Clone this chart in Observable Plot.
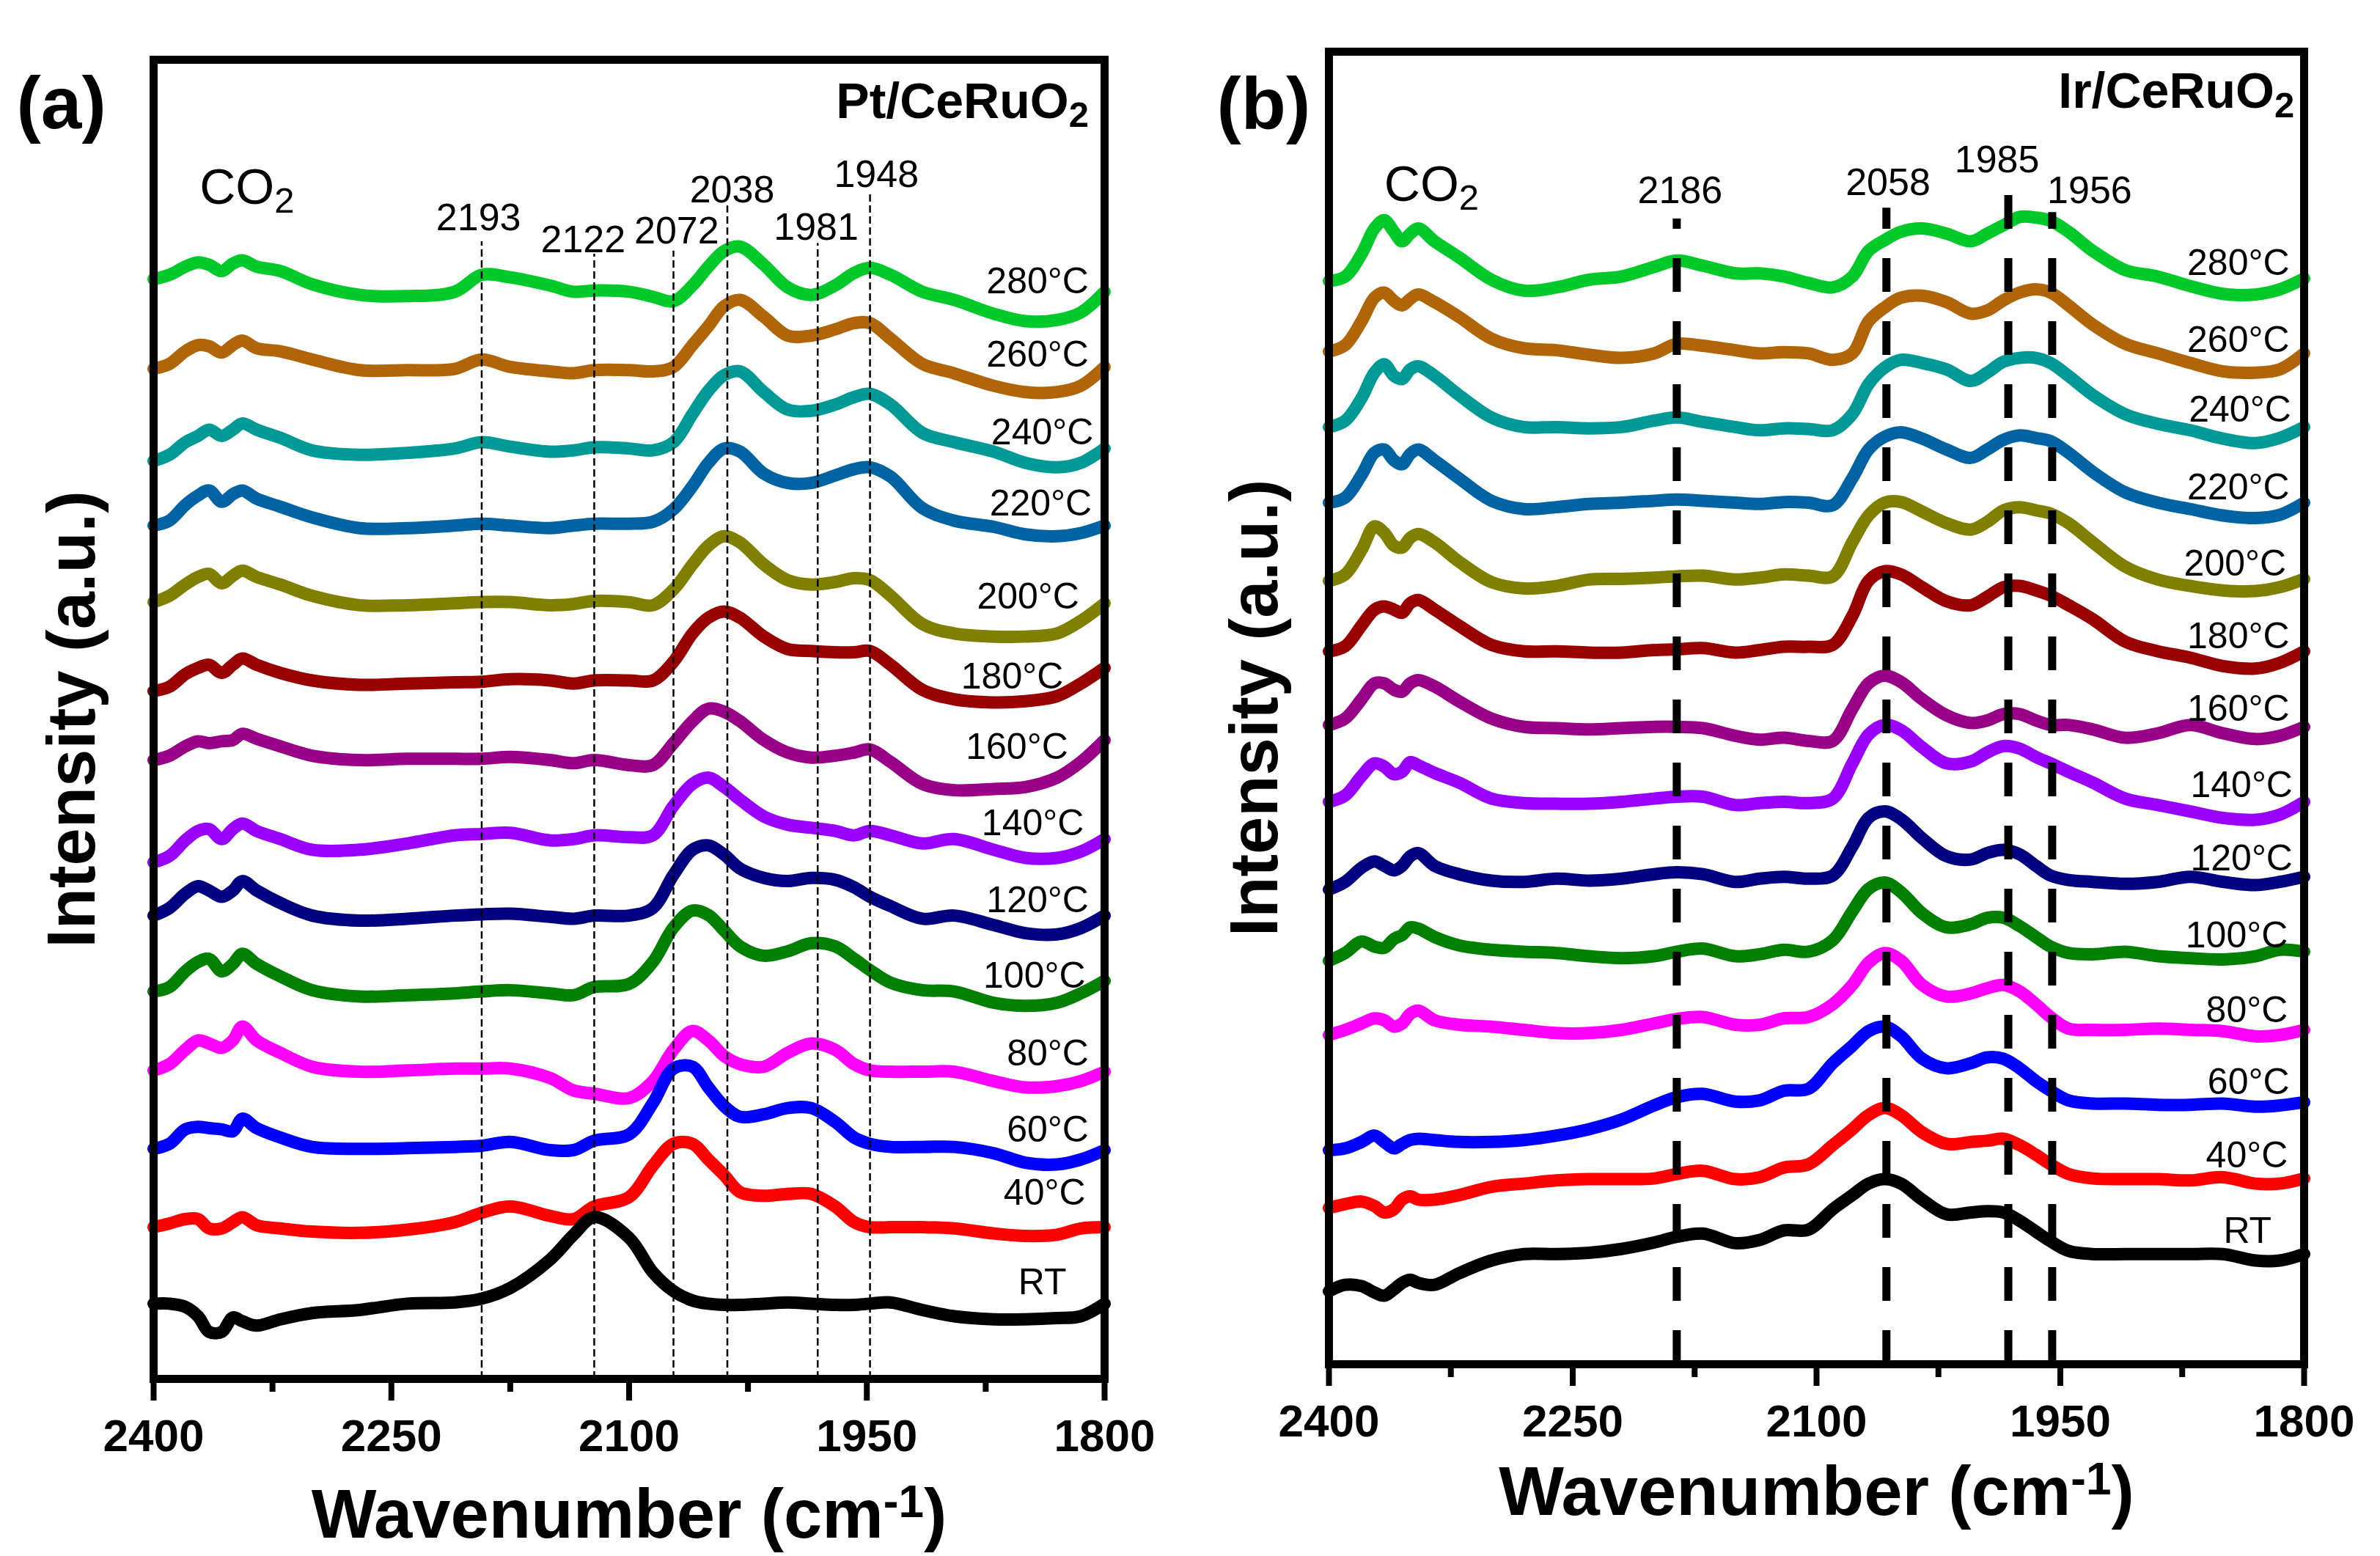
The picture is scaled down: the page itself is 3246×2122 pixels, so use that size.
<!DOCTYPE html>
<html>
<head>
<meta charset="utf-8">
<script src="https://cdn.jsdelivr.net/npm/d3@7"></script>
<script src="https://cdn.jsdelivr.net/npm/@observablehq/plot@0.6"></script>
<style>
html, body { margin: 0; padding: 0; background: #fff; }
#fig { position: relative; width: 3246px; height: 2122px; background: #fff; overflow: hidden; }
#fig svg { position: absolute; top: 0; }
</style>
</head>
<body>
<div id="fig"></div>
<script>
// ---------- shared categories ----------
const tempNames = ["280°C","260°C","240°C","220°C","200°C","180°C","160°C","140°C","120°C","100°C","80°C","60°C","40°C","RT"];
const majorTicks = [2400, 2250, 2100, 1950, 1800];
const minorTicks = [2325, 2175, 2025, 1875];

// ---------- panel (a) Pt/CeRuO2 : wavenumber grid and intensities ----------
const waveA = [2400,2390,2380,2372,2365,2357,2350,2344,2335,2320,2300,2270,2240,2210,2193,2175,2150,2135,2122,2100,2085,2072,2060,2050,2040,2030,2015,2000,1985,1970,1958,1948,1935,1915,1895,1870,1850,1830,1815,1800];
const pt280 = [1754,1761,1774,1781,1777,1767,1779,1784,1774,1767,1746,1729,1727,1734,1761,1757,1744,1734,1736,1734,1726,1719,1744,1774,1799,1806,1777,1741,1729,1744,1764,1772,1761,1734,1721,1699,1687,1689,1701,1734];
const pt260 = [1611,1619,1639,1649,1647,1637,1649,1656,1644,1639,1626,1609,1609,1611,1626,1614,1607,1604,1609,1609,1607,1614,1649,1679,1711,1721,1694,1664,1664,1674,1684,1684,1659,1619,1604,1584,1574,1574,1584,1614];
const pt240 = [1464,1474,1494,1504,1514,1504,1514,1524,1514,1501,1481,1474,1477,1484,1494,1487,1479,1481,1486,1484,1481,1494,1539,1576,1601,1607,1574,1546,1544,1554,1566,1571,1554,1509,1494,1479,1461,1454,1461,1484];
const pt220 = [1361,1369,1394,1409,1417,1399,1411,1417,1404,1391,1374,1357,1357,1361,1364,1361,1357,1361,1364,1364,1367,1387,1424,1461,1484,1479,1444,1429,1429,1441,1451,1454,1439,1389,1369,1359,1347,1344,1349,1361];
const pt200 = [1239,1249,1267,1279,1284,1269,1281,1289,1279,1267,1249,1234,1234,1237,1239,1239,1234,1236,1241,1239,1234,1259,1299,1329,1344,1334,1299,1274,1267,1271,1277,1274,1249,1204,1189,1184,1184,1189,1209,1237];
const pt180 = [1097,1104,1124,1134,1139,1126,1139,1149,1139,1126,1114,1107,1109,1111,1112,1116,1114,1109,1114,1114,1114,1144,1189,1214,1224,1214,1184,1164,1161,1159,1159,1161,1139,1099,1084,1079,1081,1089,1109,1134];
const pt160 = [987,994,1009,1017,1014,1017,1019,1029,1021,1009,994,987,989,989,989,992,987,982,987,979,979,1014,1049,1069,1064,1049,1019,999,991,994,999,1004,984,949,939,941,944,959,984,1019];
const pt140 = [824,834,859,874,877,861,877,886,874,861,844,844,854,867,869,871,859,861,867,864,867,914,949,959,944,924,897,884,879,874,867,874,867,854,861,844,831,831,841,861];
const pt120 = [739,751,774,786,779,769,779,794,779,759,739,731,734,739,741,742,737,734,739,739,751,804,844,851,836,814,799,794,799,796,784,769,754,734,739,724,711,709,719,739];
const pt100 = [618,625,650,665,670,650,662,678,662,642,620,610,612,615,618,620,615,612,625,630,665,720,747,740,715,690,675,682,695,690,670,652,632,620,618,600,595,600,615,635];
const pt80  = [492,502,525,540,535,528,540,562,540,520,498,490,492,495,495,495,480,460,455,448,475,525,555,540,515,502,498,520,535,525,502,492,490,490,490,475,465,467,475,490];
const pt60  = [367,375,398,402,400,398,395,415,400,385,370,367,368,370,372,378,365,365,380,390,440,495,498,465,435,418,422,432,432,410,385,375,370,370,370,360,345,342,350,365];
const pt40  = [242,248,255,255,240,240,250,258,245,240,235,233,238,250,265,275,260,255,275,290,340,375,375,350,325,298,292,295,295,275,250,242,242,242,240,232,228,230,240,242];
const ptRT  = [120,120,115,100,75,75,98,92,85,95,105,110,120,122,128,145,190,230,258,225,170,140,125,120,118,118,120,122,120,118,118,120,122,110,100,95,95,97,100,120];

const peakTextA = ["2193","2122","2072","2038","1981","1948"];
const peakLineA = [2193, 2122, 2072, 2038, 1981, 1948];
const peakLineTopA = [1814, 1794, 1799, 1871, 1811, 1894];
const peakLabelXA = [2195, 2129, 2070, 2035, 1982, 1944];
const peakLabelYA = [1832, 1797, 1811, 1877, 1817, 1901];
const tempLabelXA = [1810,1810,1807,1808,1816,1826,1823,1813,1810,1812,1810,1810,1812,1824];
const tempLabelYA = [1731,1614,1491,1377,1229,1101,989,867,744,624,500,378,278,135];

// ---------- panel (b) Ir/CeRuO2 ----------
const waveB = [2400,2390,2380,2372,2366,2360,2355,2350,2345,2335,2320,2300,2280,2260,2240,2220,2200,2186,2170,2150,2135,2120,2105,2090,2078,2068,2058,2048,2035,2020,2005,1995,1985,1975,1965,1956,1945,1930,1910,1890,1870,1850,1830,1815,1800];
const ir280 = [1691,1698,1733,1773,1786,1768,1753,1765,1773,1753,1728,1693,1676,1681,1693,1698,1713,1723,1715,1703,1703,1698,1688,1681,1698,1738,1755,1768,1773,1765,1753,1765,1778,1791,1790,1785,1768,1738,1708,1698,1683,1671,1670,1678,1695];
const ir260 = [1581,1591,1628,1665,1673,1660,1653,1663,1670,1658,1635,1601,1586,1583,1576,1571,1578,1593,1590,1583,1578,1580,1578,1568,1578,1628,1650,1665,1668,1658,1640,1645,1661,1673,1678,1673,1653,1623,1593,1578,1563,1550,1548,1553,1578];
const ir240 = [1463,1473,1508,1548,1561,1543,1538,1553,1558,1543,1513,1478,1463,1463,1461,1463,1473,1478,1471,1463,1458,1461,1460,1458,1483,1530,1556,1568,1563,1553,1535,1548,1565,1571,1571,1563,1543,1513,1483,1468,1458,1445,1438,1446,1463];
const ir220 = [1345,1353,1388,1423,1428,1411,1405,1421,1428,1411,1383,1348,1335,1338,1343,1345,1348,1350,1348,1345,1343,1346,1345,1341,1383,1428,1448,1455,1445,1428,1415,1428,1443,1450,1446,1441,1423,1393,1361,1345,1335,1325,1321,1326,1345];
const ir200 = [1223,1233,1271,1308,1298,1278,1275,1290,1296,1283,1253,1221,1211,1215,1225,1226,1228,1230,1231,1225,1228,1233,1231,1230,1283,1325,1345,1346,1331,1313,1303,1315,1333,1338,1333,1328,1313,1283,1245,1225,1215,1208,1207,1213,1226];
const ir180 = [1113,1121,1153,1178,1183,1178,1173,1188,1193,1178,1153,1123,1113,1113,1111,1111,1115,1116,1118,1111,1115,1120,1120,1123,1168,1223,1238,1233,1213,1191,1185,1198,1213,1215,1208,1200,1185,1163,1128,1113,1103,1090,1086,1095,1113];
const ir160 = [998,1008,1038,1063,1063,1053,1050,1063,1068,1058,1035,1008,995,993,991,993,995,995,993,981,975,978,973,973,1023,1063,1075,1065,1038,1013,1001,1005,1015,1015,1005,998,998,991,978,985,998,985,976,981,995];
const ir140 = [878,888,918,938,933,921,925,940,935,923,908,883,876,875,875,878,883,886,886,873,876,878,876,883,938,983,998,990,963,938,941,955,965,961,948,938,925,908,883,873,863,853,850,858,878];
const ir120 = [741,753,775,785,778,771,778,793,798,778,765,755,753,758,755,758,765,768,765,753,758,761,758,763,808,853,863,851,821,793,788,798,803,796,778,763,756,753,750,753,761,753,748,753,761];
const ir100 = [630,642,660,652,650,664,670,682,680,667,654,647,644,642,637,634,637,644,649,637,640,647,644,662,707,742,752,737,704,682,687,697,697,684,667,652,642,640,644,637,634,632,637,647,644];
const ir80  = [514,522,532,540,537,527,532,547,552,537,530,527,522,517,517,522,532,539,542,530,530,540,542,562,592,627,642,630,592,574,579,587,592,582,562,542,524,522,522,524,522,520,512,514,522];
const ir60  = [334,337,347,357,347,337,344,350,352,350,347,347,350,357,367,382,404,417,422,410,412,427,430,470,497,520,527,512,477,462,470,479,477,462,442,427,412,407,407,405,405,407,402,404,409];
const ir40  = [244,250,254,247,237,242,257,262,257,257,264,277,282,287,289,289,290,297,302,289,292,307,312,342,367,389,400,389,362,344,347,349,352,342,327,312,297,290,289,289,287,292,282,282,290];
const irRT  = [114,124,122,112,107,117,127,132,127,124,142,162,172,172,174,180,190,199,204,189,194,209,210,242,264,282,289,282,257,234,237,239,237,224,207,192,177,172,172,172,172,172,162,162,172];

const peakTextB = ["2186","2058","1985","1956"];
const peakLineB = [2186, 2057, 1982, 1955];
const peakLineTopB = [1788, 1805, 1843, 1798];
const peakLabelXB = [2184, 2056, 1989, 1932];
const peakLabelYB = [1813, 1825, 1861, 1813];
const tempLabelXB = [1809,1809,1808,1809,1811,1809,1809,1807,1807,1810,1810,1809,1810,1820];
const tempLabelYB = [1701,1580,1471,1350,1231,1118,1005,885,771,651,534,422,307,190];

// ---------- styles ----------
const lineColors = ["#00c92a","#b06608","#009a96","#0063a4","#808000","#990000","#990088","#9900ff","#000080","#008000","#ff00ff","#0000ff","#ff0000","#000000"];
const FONT = "'Liberation Sans', Arial, Helvetica, sans-serif";

function fixText(svg) {
  d3.select(svg).selectAll("text").each(function () {
    const t = this.textContent;
    const sel = d3.select(this);
    if (t === "CO2" || t === "Pt/CeRuO2" || t === "Ir/CeRuO2") {
      this.textContent = "";
      sel.append("tspan").text(t.slice(0, -1));
      sel.append("tspan").attr("dy", "0.25em").attr("font-size", "0.72em").text("2");
    } else if (t === "Wavenumber (cm-1)") {
      this.textContent = "";
      sel.append("tspan").text("Wavenumber (cm");
      sel.append("tspan").attr("dy", "-0.45em").attr("font-size", "0.66em").text("-1");
      sel.append("tspan").attr("dy", "0.3em").text(")");
    }
  });
}

function makePanel(p) {
  const marks = [];
  p.series.forEach((s, i) => {
    marks.push(Plot.line(p.wave, {x: d => d, y: (d, j) => s[j], stroke: lineColors[i], strokeWidth: 17, curve: "catmull-rom", strokeLinejoin: "round"}));
  });
  marks.push(Plot.ruleX(p.peakLine, {x: d => d, y1: 0, y2: (d, i) => p.peakTop[i], stroke: "black", strokeWidth: p.ruleWidth, strokeDasharray: p.ruleDash}));
  marks.push(Plot.text(tempNames, {x: (d, i) => p.tempX[i], y: (d, i) => p.tempY[i], text: d => d, textAnchor: "end", lineAnchor: "bottom", fontSize: 50, fill: "black"}));
  marks.push(Plot.text(p.peakText, {x: (d, i) => p.peakX[i], y: (d, i) => p.peakY[i], text: d => d, textAnchor: "middle", lineAnchor: "bottom", fontSize: 52, fill: "black"}));
  marks.push(Plot.text(["CO2"], {x: p.co2[0], y: p.co2[1], text: d => d, textAnchor: "start", lineAnchor: "bottom", fontSize: 68}));
  marks.push(Plot.text([p.sample], {x: p.sampleXY[0], y: p.sampleXY[1], text: d => d, textAnchor: "end", lineAnchor: "bottom", fontSize: 68, fontWeight: "bold"}));
  marks.push(Plot.text([p.tag], {frameAnchor: "top-left", dx: p.tagD[0], dy: p.tagD[1], text: d => d, textAnchor: "start", lineAnchor: "bottom", fontSize: 100, fontWeight: "bold"}));
  marks.push(Plot.text(["Intensity (a.u.)"], {frameAnchor: "left", rotate: -90, dx: p.yLabDx, text: d => d, textAnchor: "middle", lineAnchor: "bottom", fontSize: 92, fontWeight: "bold"}));
  marks.push(Plot.text(["Wavenumber (cm-1)"], {frameAnchor: "bottom", dy: p.xLabDy, text: d => d, textAnchor: "middle", lineAnchor: "bottom", fontSize: 94, fontWeight: "bold"}));
  marks.push(Plot.axisX(majorTicks, {tickSize: 30, tickPadding: 24, tickFormat: "d", fontSize: 62, fontWeight: "bold", strokeWidth: 8, stroke: "black", fill: "black", label: null}));
  marks.push(Plot.axisX(minorTicks, {tickSize: 18, strokeWidth: 8, stroke: "black", fill: "none", label: null}));
  marks.push(Plot.frame({stroke: "black", strokeWidth: 11}));

  const svg = Plot.plot({
    width: 1623,
    height: 2122,
    marginLeft: p.m[0], marginRight: p.m[1], marginTop: p.m[2], marginBottom: p.m[3],
    x: {domain: [2400, 1800]},
    y: {domain: [0, p.yMax], axis: null},
    style: {fontFamily: FONT, background: "transparent", color: "black", overflow: "visible"},
    marks
  });
  fixText(svg);
  svg.style.left = p.left + "px";
  document.getElementById("fig").appendChild(svg);
}

makePanel({
  wave: waveA,
  series: [pt280, pt260, pt240, pt220, pt200, pt180, pt160, pt140, pt120, pt100, pt80, pt60, pt40, ptRT],
  yMax: 2104, m: [209, 117, 81, 242], left: 0,
  peakLine: peakLineA, peakTop: peakLineTopA, ruleWidth: 2.5, ruleDash: "10,5",
  peakText: peakTextA, peakX: peakLabelXA, peakY: peakLabelYA,
  tempX: tempLabelXA, tempY: tempLabelYA,
  co2: [2371, 1874], sample: "Pt/CeRuO2", sampleXY: [1810, 2011],
  tag: "(a)", tagD: [-187, 93], yLabDx: -81, xLabDy: 216
});

makePanel({
  wave: waveB,
  series: [ir280, ir260, ir240, ir220, ir200, ir180, ir160, ir140, ir120, ir100, ir80, ir60, ir40, irRT],
  yMax: 2049, m: [189, 104, 70, 262], left: 1623,
  peakLine: peakLineB, peakTop: peakLineTopB, ruleWidth: 11, ruleDash: "46,40",
  peakText: peakTextB, peakX: peakLabelXB, peakY: peakLabelYB,
  tempX: tempLabelXB, tempY: tempLabelYB,
  co2: [2366, 1816], sample: "Ir/CeRuO2", sampleXY: [1806, 1961],
  tag: "(b)", tagD: [-153, 105], yLabDx: -71, xLabDy: 205
});
</script>
</body>
</html>
